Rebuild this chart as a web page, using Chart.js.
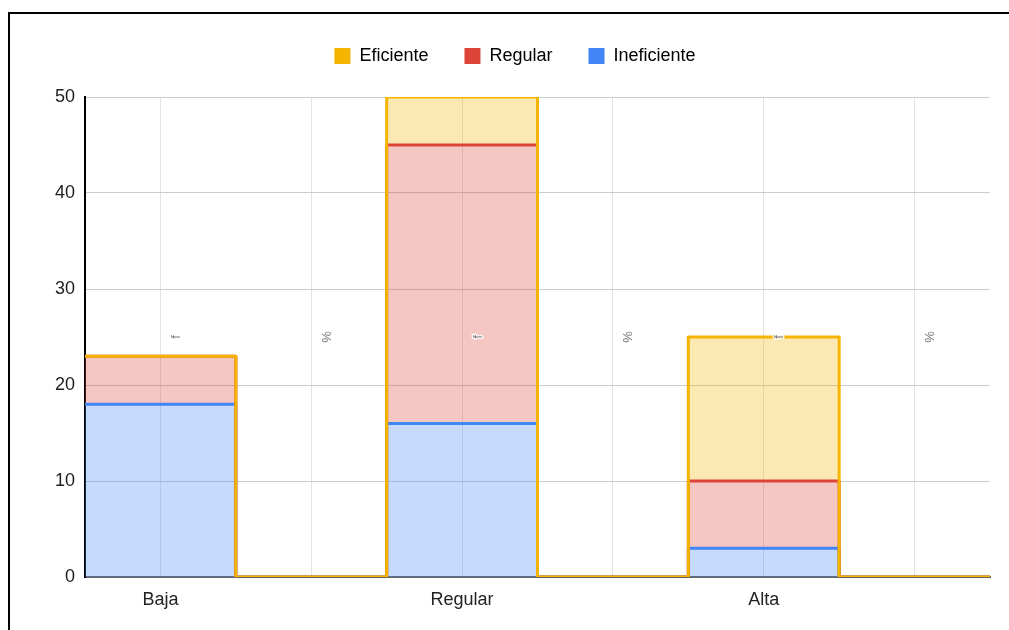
<!DOCTYPE html>
<html>
<head>
<meta charset="utf-8">
<script src="https://cdn.jsdelivr.net/npm/chart.js@4"></script>
<style>
  html, body { margin: 0; padding: 0; background: #fff; }
  #wrap { position: relative; width: 1009px; height: 630px; overflow: hidden; }
  #chart { position: absolute; left: 0; top: 0; }
  #frame { position: absolute; left: 8px; top: 12px; width: 1010px; height: 630px;
           border-top: 2px solid #000; border-left: 2px solid #000; pointer-events: none; }
</style>
</head>
<body>
<div id="wrap">
  <canvas id="chart" width="1009" height="630"></canvas>
  <div id="frame"></div>
</div>
<script>
// Columns of the stepped area: each level is followed by an empty column
const columns = ['Baja', '', 'Regular', '', 'Alta', ''];
// Small rotated labels shown inside each column
const columnMarks = ['f', '%', 'f', '%', 'f', '%'];
const markLevel = 25;

// Values per column (stacked bottom to top: Ineficiente, Regular, Eficiente)
const ineficiente = [18, 0, 16, 0, 3, 0];
const regular     = [5, 0, 29, 0, 7, 0];
const eficiente   = [0, 0, 5, 0, 15, 0];

const yTicks = [0, 10, 20, 30, 40, 50];

const COLORS = {
  eficiente: '#f4b400',
  regular: '#db4437',
  ineficiente: '#4285f4'
};
const FONT = "'Liberation Sans', Arial, sans-serif";

// Running totals give the top edge of each stacked band
const sumSeries = (...series) => series[0].map((_, i) => series.reduce((s, a) => s + a[i], 0));
const topIneficiente = ineficiente.slice();
const topRegular = sumSeries(ineficiente, regular);
const topEficiente = sumSeries(ineficiente, regular, eficiente);

// Stepped points: each column starts at its left edge; a closing point ends the last column
const steps = tops => tops.map((v, i) => ({ x: i, y: v })).concat([{ x: tops.length, y: tops[tops.length - 1] }]);

function withAlpha(hex, a) {
  const n = parseInt(hex.slice(1), 16);
  return `rgba(${(n >> 16) & 255}, ${(n >> 8) & 255}, ${n & 255}, ${a})`;
}

function series(label, color, tops, fill) {
  return {
    label,
    data: steps(tops),
    borderColor: color,
    backgroundColor: withAlpha(color, 0.3),
    borderWidth: 3,
    borderJoinStyle: 'round',
    borderCapStyle: 'round',
    stepped: 'before',
    pointRadius: 0,
    pointHoverRadius: 0,
    fill
  };
}

// Rotated column marks
const columnMarksPlugin = {
  id: 'columnMarks',
  afterDatasetsDraw(chart) {
    const { ctx, scales: { x, y } } = chart;
    ctx.save();
    ctx.font = `13px ${FONT}`;
    ctx.textAlign = 'center';
    ctx.textBaseline = 'middle';
    columnMarks.forEach((t, i) => {
      const px = x.getPixelForValue(i + 0.5) + 16;
      const py = y.getPixelForValue(markLevel);
      ctx.save();
      ctx.translate(px, py);
      ctx.rotate(-Math.PI / 2);
      ctx.lineJoin = 'round';
      ctx.strokeStyle = 'rgba(255,255,255,0.85)';
      ctx.lineWidth = 3;
      ctx.strokeText(t, 0, 0);
      ctx.fillStyle = '#777';
      ctx.fillText(t, 0, 0);
      ctx.restore();
    });
    ctx.restore();
  }
};

// Extra room below the legend
const legendSpacing = {
  id: 'legendSpacing',
  beforeInit(chart) {
    const fit = chart.legend.fit;
    chart.legend.fit = function () {
      fit.call(this);
      this.height += 22;
    };
  }
};

new Chart(document.getElementById('chart'), {
  type: 'line',
  data: {
    datasets: [
      series('Eficiente', COLORS.eficiente, topEficiente, { target: 1 }),
      series('Regular', COLORS.regular, topRegular, { target: 2 }),
      series('Ineficiente', COLORS.ineficiente, topIneficiente, 'origin')
    ]
  },
  options: {
    responsive: false,
    animation: false,
    events: [],
    layout: { padding: { top: 11, left: 40, right: 19, bottom: 0 } },
    plugins: {
      filler: { drawTime: 'beforeDatasetsDraw' },
      tooltip: { enabled: false },
      legend: {
        position: 'top',
        align: 'center',
        labels: {
          boxWidth: 16,
          boxHeight: 16,
          padding: 36,
          color: '#222',
          font: { family: FONT, size: 18 },
          generateLabels(chart) {
            return chart.data.datasets.map((ds, i) => ({
              text: ds.label,
              fillStyle: ds.borderColor,
              strokeStyle: ds.borderColor,
              lineWidth: 0,
              hidden: false,
              datasetIndex: i
            }));
          }
        }
      }
    },
    scales: {
      x: {
        type: 'linear',
        min: 0,
        max: columns.length,
        afterFit(scale) { scale.height = 53; },
        afterBuildTicks(scale) {
          scale.ticks = columns.map((_, i) => ({ value: i + 0.5 }));
        },
        ticks: {
          autoSkip: false,
          maxRotation: 0,
          padding: 12,
          color: '#222',
          font: { family: FONT, size: 18 },
          callback: (v) => columns[Math.floor(v)]
        },
        grid: { color: '#e3e3e3', lineWidth: 1, drawTicks: false },
        border: { color: '#666', width: 2 }
      },
      y: {
        min: 0,
        max: 50,
        afterFit(scale) { scale.width = 45; },
        afterBuildTicks(scale) {
          scale.ticks = yTicks.map(v => ({ value: v }));
        },
        ticks: {
          padding: 10,
          color: '#222',
          font: { family: FONT, size: 18 }
        },
        grid: { color: '#cccccc', lineWidth: 1, drawTicks: false },
        border: { color: '#000', width: 2 }
      }
    }
  },
  plugins: [columnMarksPlugin, legendSpacing]
});
</script>
</body>
</html>
